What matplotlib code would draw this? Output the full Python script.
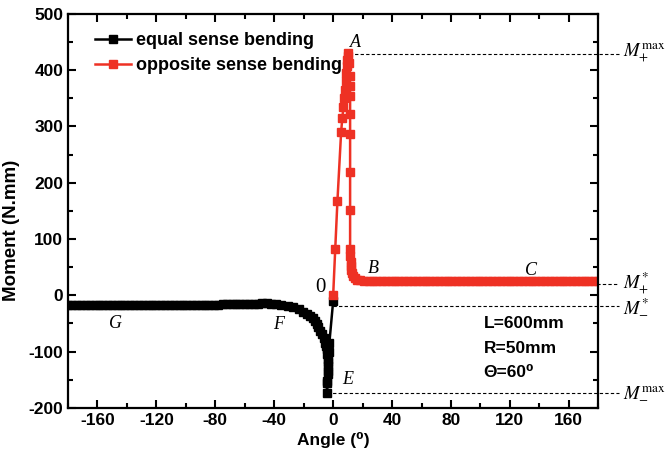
import matplotlib
matplotlib.use('Agg')
import matplotlib.pyplot as plt

plt.rcParams['font.family'] = ['Liberation Sans', 'DejaVu Sans']
plt.rcParams['mathtext.fontset'] = 'stix'
plt.rcParams['axes.unicode_minus'] = False

# equal sense bending: from 0 down to E, back up through F, flat out to G
eq_angle = [0, -2.6, -3.0, -3.3, -3.6, -3.9, -4.3,
            -4.0, -3.8, -3.7, -3.8, -4.0, -4.3, -4.8, -5.4, -6.4, -7.7, -8.8,
            -10.0, -11.0, -12.2, -13.8, -15.6, -17.8, -20.2, -23.5, -27.0, -31.0,
            -35.3, -39, -42, -45, -48, -51, -54, -57, -60, -63, -66, -69, -72,
            -75, -78, -81, -84, -87, -90, -93, -96, -99, -102, -105, -108, -111,
            -114, -117, -120, -123, -126, -129, -132, -135, -138, -141, -144,
            -147, -150, -153, -156, -159, -162, -165, -168, -171, -174, -177, -180]
eq_moment = [-10, -85, -100, -118, -135, -152, -174,
             -155, -140, -125, -113, -104, -96, -90, -84, -76, -69, -63,
             -57, -51, -45, -40, -36, -33, -30, -25, -21, -19,
             -18, -16, -15, -14, -14, -15, -15, -15, -16, -16, -16, -16, -16,
             -16, -17, -17, -17, -17, -17, -17, -17, -17, -17, -17, -17, -17,
             -17, -17, -17, -17, -17, -17, -17, -17, -17, -17, -17,
             -17, -17, -17, -17, -17, -17, -17, -17, -17, -17, -17, -17]

# opposite sense bending: from 0 up to A, down to B, flat to C
op_angle = [0, 1.4, 2.9, 5.4, 6.2, 7.0, 7.5, 8.0, 8.4, 8.8, 9.2, 9.6, 10.0, 10.4,
            10.9, 11.2, 11.4, 11.5, 11.5, 11.5, 11.5, 11.5, 11.5,
            11.6, 11.8, 12.0, 12.4, 13.0, 13.8, 15.0, 16.5, 18.5, 21,
            24, 27, 30, 33, 36, 39, 42, 45, 48, 51, 54, 57, 60, 63, 66, 69, 72,
            75, 78, 81, 84, 87, 90, 93, 96, 99, 102, 105, 108, 111, 114, 117,
            120, 123, 126, 129, 132, 135, 138, 141, 144, 147, 150, 153, 156,
            159, 162, 165, 168, 171, 174, 177, 180]
op_moment = [0, 82, 168, 290, 315, 335, 350, 365, 380, 395, 408, 418, 425, 430,
             412, 390, 372, 355, 322, 287, 219, 151, 82,
             70, 60, 52, 45, 39, 34, 30, 28, 27, 26,
             26, 26, 26, 25, 25, 25, 25, 25, 25, 25, 25, 25, 25, 25, 25, 25, 25,
             25, 25, 25, 25, 25, 25, 25, 25, 25, 25, 25, 25, 25, 25, 25,
             25, 25, 25, 25, 25, 25, 25, 25, 25, 25, 25, 25, 25,
             25, 25, 25, 25, 25, 25, 25, 25]

# characteristic moments: M+max, M+*, M-*, M-max
m_values = [429, 21, -19, -173]
m_labels = [r'$M_{+}^{\max}$', r'$M_{+}^{*}$', r'$M_{-}^{*}$', r'$M_{-}^{\max}$']
m_start = [10.5, 160, 0, -4.3]

point_labels = ['A', 'B', 'C', 'E', 'F', 'G']
point_pos = [(15, 450), (27, 48), (134, 44), (10, -150), (-37, -52), (-148, -50)]

red = '#ee3124'

fig = plt.figure(figsize=(6.67, 4.63), dpi=100)
ax = fig.add_axes([0.102, 0.119, 0.795, 0.851])

ax.plot(eq_angle, eq_moment, '-s', color='black', lw=1.8, ms=5.3,
        label='equal sense bending')
ax.plot(op_angle, op_moment, '-s', color=red, lw=1.8, ms=5.3, mec=red,
        label='opposite sense bending')

for val, x0, lab in zip(m_values, m_start, m_labels):
    ax.plot([x0, 194], [val, val], color='black', lw=0.8, dashes=(3, 2),
            clip_on=False, zorder=1)
    ax.text(197, val, lab, fontsize=13.5, va='center', ha='left', clip_on=False)

for lab, (px, py) in zip(point_labels, point_pos):
    ax.text(px, py, lab, fontsize=13, style='italic', family='Liberation Serif',
            ha='center', va='center')
ax.text(-8.5, 14, '0', fontsize=15, family='Liberation Serif',
        ha='center', va='center')

ax.text(102, -50, 'L=600mm', fontsize=12.5, fontweight='bold', va='center')
ax.text(102, -94, 'R=50mm', fontsize=12.5, fontweight='bold', va='center')
ax.text(102, -137, 'Θ=60⁰', fontsize=12.5, fontweight='bold', va='center')

ax.set_xlim(-180, 180)
ax.set_ylim(-200, 500)
ax.set_xticks(range(-160, 161, 40))
ax.set_xticks(range(-180, 181, 20), minor=True)
ax.set_yticks(range(-200, 501, 100))
ax.set_yticks(range(-200, 501, 50), minor=True)
ax.tick_params(which='both', direction='in', top=True, right=True, width=1.5)
ax.tick_params(which='major', length=6, labelsize=12.5)
ax.tick_params(which='minor', length=3.5)
for lbl in ax.get_xticklabels() + ax.get_yticklabels():
    lbl.set_fontweight('bold')
for sp in ax.spines.values():
    sp.set_linewidth(1.6)

ax.set_xlabel('Angle (⁰)', fontsize=12.5, fontweight='bold', labelpad=3)
ax.set_ylabel('Moment (N.mm)', fontsize=13.5, fontweight='bold')
ax.yaxis.set_label_coords(-0.09, 0.45)

leg = ax.legend(loc='upper left', bbox_to_anchor=(0.02, 0.995), frameon=False,
                handlelength=2.0, handletextpad=0.3, labelspacing=0.45,
                prop={'size': 13, 'weight': 'bold'})

fig.savefig('out.png', dpi=100)
